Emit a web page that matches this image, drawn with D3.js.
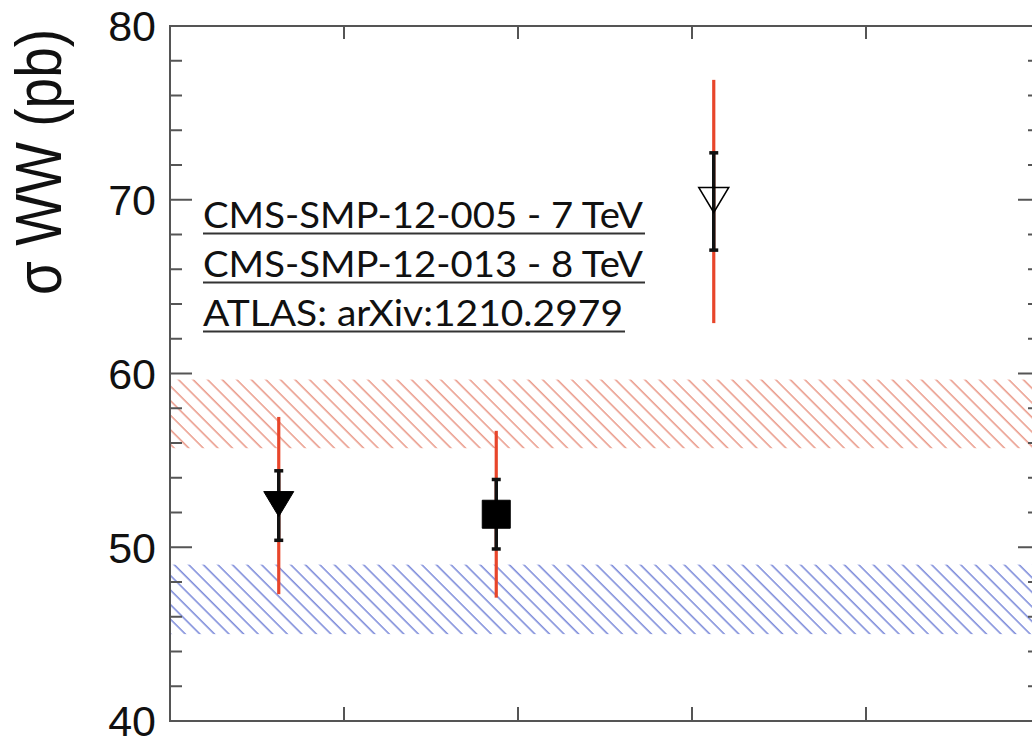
<!DOCTYPE html>
<html>
<head>
<meta charset="utf-8">
<script src="https://cdn.jsdelivr.net/npm/d3@7"></script>
<style>
  body { margin: 0; background: #fff; }
  svg { display: block; }
  .tick-label { font-family: "Liberation Sans", Arial, sans-serif; font-size: 43px; fill: #111; }
  .y-title { font-family: "Liberation Sans", Arial, sans-serif; font-size: 55px; fill: #111; }
  .ref { font-family: Lato, "Open Sans", sans-serif; font-size: 36px; fill: #111; }
</style>
</head>
<body>
<div id="chart"></div>
<script>
// measurements (pb)
var experiments = ['CMS-SMP-12-005 - 7 TeV', 'ATLAS: arXiv:1210.2979', 'CMS-SMP-12-013 - 8 TeV'];
var xPos = [0.625, 1.875, 3.125];
var values = [52.4, 51.9, 69.9];
var statErr = [2.0, 2.0, 2.8];
var totalErr = [5.1, 4.8, 7.0];
var markers = ['triangle-filled', 'square', 'triangle-open'];

// theory bands (SM 7 TeV, SM 8 TeV)
var bandNames = ['sm7', 'sm8'];
var bandLow = [45.0, 55.7];
var bandHigh = [49.0, 59.65];
var bandColors = ['#6f7fd6', '#e8907e'];

// legend lines
var refLines = ['CMS-SMP-12-005 - 7 TeV', 'CMS-SMP-12-013 - 8 TeV', 'ATLAS: arXiv:1210.2979'];
var yTicks = [40, 50, 60, 70, 80];

var size = { w: 1032, h: 738, left: 170, right: 1040, top: 26, bottom: 721 };

var x = d3.scaleLinear().domain([0, 5]).range([size.left, size.right]);
var y = d3.scaleLinear().domain([40, 80]).range([size.bottom, size.top]);

var svg = d3.select('#chart').append('svg')
  .attr('width', size.w)
  .attr('height', size.h);

svg.append('rect').attr('width', size.w).attr('height', size.h).attr('fill', '#fff');

// hatch patterns
var defs = svg.append('defs');
bandNames.forEach(function(name, i) {
  var p = defs.append('pattern')
    .attr('id', 'hatch-' + name)
    .attr('patternUnits', 'userSpaceOnUse')
    .attr('width', 10.3)
    .attr('height', 10.3)
    .attr('patternTransform', 'rotate(-45)');
  p.append('line')
    .attr('x1', 2).attr('y1', 0)
    .attr('x2', 2).attr('y2', 10.3)
    .attr('stroke', bandColors[i])
    .attr('stroke-width', 1.4);
});

// bands
svg.append('g').selectAll('rect').data(bandNames).enter().append('rect')
  .attr('x', x(0))
  .attr('width', x(5) - x(0))
  .attr('y', function(d, i) { return y(bandHigh[i]); })
  .attr('height', function(d, i) { return y(bandLow[i]) - y(bandHigh[i]); })
  .attr('fill', function(d) { return 'url(#hatch-' + d + ')'; });

// frame
var axisColor = '#555';
svg.append('rect')
  .attr('x', x(0)).attr('y', y(80))
  .attr('width', x(5) - x(0)).attr('height', y(40) - y(80))
  .attr('fill', 'none').attr('stroke', axisColor).attr('stroke-width', 2);

// y ticks left and right
var minor = d3.range(40, 81, 2);
var yt = svg.append('g').attr('class', 'y-ticks');
minor.forEach(function(v) {
  var len = v % 10 == 0 ? 22 : 12;
  yt.append('line')
    .attr('x1', x(0)).attr('x2', x(0) + len)
    .attr('y1', y(v)).attr('y2', y(v))
    .attr('stroke', axisColor).attr('stroke-width', 2);
  yt.append('line')
    .attr('x1', x(5)).attr('x2', x(5) - len)
    .attr('y1', y(v)).attr('y2', y(v))
    .attr('stroke', axisColor).attr('stroke-width', 2);
});

// x ticks top and bottom, no labels
[1, 2, 3, 4].forEach(function(v) {
  yt.append('line')
    .attr('x1', x(v)).attr('x2', x(v))
    .attr('y1', y(40)).attr('y2', y(40) - 14)
    .attr('stroke', axisColor).attr('stroke-width', 2);
  yt.append('line')
    .attr('x1', x(v)).attr('x2', x(v))
    .attr('y1', y(80)).attr('y2', y(80) + 13)
    .attr('stroke', axisColor).attr('stroke-width', 2);
});

// y tick labels
svg.append('g').selectAll('text').data(yTicks).enter().append('text')
  .attr('class', 'tick-label')
  .attr('x', 156)
  .attr('y', function(d) { return y(d); })
  .attr('dy', '0.36em')
  .attr('text-anchor', 'end')
  .text(function(d) { return d; });

// y title
svg.append('text')
  .attr('class', 'y-title')
  .attr('transform', 'translate(38,162) scale(1.18,1) rotate(-90)')
  .attr('text-anchor', 'middle')
  .attr('dy', '0.36em')
  .text('σ WW (pb)');

// legend text, underlined
var refBase = [228, 277, 326];
var refWidth = [440, 440, 420];
var lg = svg.append('g');
refLines.forEach(function(t, i) {
  lg.append('text')
    .attr('class', 'ref')
    .attr('x', 203)
    .attr('y', refBase[i])
    .attr('textLength', refWidth[i])
    .attr('lengthAdjust', 'spacingAndGlyphs')
    .text(t);
  lg.append('line')
    .attr('x1', 203).attr('x2', 203 + refWidth[i] + 2)
    .attr('y1', refBase[i] + 5.5).attr('y2', refBase[i] + 5.5)
    .attr('stroke', '#333').attr('stroke-width', 2);
});

// error bars
var pts = svg.append('g').selectAll('g').data(experiments).enter().append('g');
pts.append('line')
  .attr('x1', function(d, i) { return x(xPos[i]); })
  .attr('x2', function(d, i) { return x(xPos[i]); })
  .attr('y1', function(d, i) { return y(values[i] + totalErr[i]); })
  .attr('y2', function(d, i) { return y(values[i] - totalErr[i]); })
  .attr('stroke', '#e8452a').attr('stroke-width', 3.2);
pts.append('line')
  .attr('x1', function(d, i) { return x(xPos[i]); })
  .attr('x2', function(d, i) { return x(xPos[i]); })
  .attr('y1', function(d, i) { return y(values[i] + statErr[i]); })
  .attr('y2', function(d, i) { return y(values[i] - statErr[i]); })
  .attr('stroke', '#111').attr('stroke-width', 3.5);
[1, -1].forEach(function(s) {
  pts.append('line')
    .attr('x1', function(d, i) { return x(xPos[i]) - 4.5; })
    .attr('x2', function(d, i) { return x(xPos[i]) + 4.5; })
    .attr('y1', function(d, i) { return y(values[i] + s*statErr[i]); })
    .attr('y2', function(d, i) { return y(values[i] + s*statErr[i]); })
    .attr('stroke', '#111').attr('stroke-width', 3.5);
});

// markers
pts.append('path')
  .attr('transform', function(d, i) { return 'translate(' + x(xPos[i]) + ',' + y(values[i]) + ')'; })
  .attr('d', function(d, i) {
    if(markers[i] == 'square')
      return 'M-14,-14H14V14H-14Z';
    return 'M-15,-14H15L0,11Z';
  })
  .attr('fill', function(d, i) { return markers[i] == 'triangle-open' ? 'none' : '#000'; })
  .attr('stroke', '#000')
  .attr('stroke-width', function(d, i) { return markers[i] == 'triangle-open' ? 1.5 : 1; });
</script>
</body>
</html>
